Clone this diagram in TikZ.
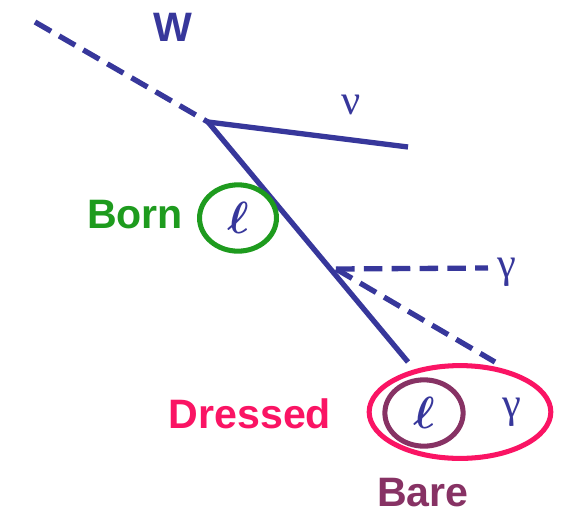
\documentclass[tikz,border=0pt]{standalone}
\usepackage{fix-cm}
\usepackage{amsmath}
\usepackage{fontspec}
\setmainfont{Liberation Sans}
\newfontfamily\greekfont{Liberation Serif}
\usetikzlibrary{shapes.geometric}

\definecolor{lineblue}{RGB}{55,55,155}
\definecolor{borngreen}{RGB}{30,155,30}
\definecolor{dresspink}{RGB}{250,20,100}
\definecolor{barepurple}{RGB}{135,50,100}

\begin{document}
\begin{tikzpicture}[x=0.0265cm,y=-0.0265cm,
    fermion/.style={lineblue, line width=4pt},
    boson/.style={lineblue, line width=4pt, dash pattern=on 14pt off 7pt},
    lbl/.style={font=\fontsize{31}{31}\selectfont\bfseries, inner sep=0pt},
    greek/.style={lineblue, font=\fontsize{32}{32}\selectfont\greekfont, inner sep=0pt},
    ell/.style={lineblue, inner sep=0pt, font=\fontsize{34}{34}\selectfont},
    ring/.style={ellipse, line width=3.8pt, inner sep=0pt}]
    \useasboundingbox (0,0) rectangle (566,519);
    \coordinate (wstart) at (35,22);
    \coordinate (wvtx) at (208,122);
    \coordinate (nuend) at (408,147);
    \coordinate (gvtx) at (336,269);
    \coordinate (lend) at (408,362);
    \coordinate (gend) at (488,268);
    \coordinate (gend2) at (495,362);
    \draw[boson] (wstart) -- (wvtx);
    \draw[fermion] (wvtx) -- (nuend);
    \draw[fermion] (wvtx) -- (lend);
    \draw[boson] (gvtx) -- (gend);
    \draw[boson] (gvtx) -- (gend2);
    \node[lbl, lineblue] (w) at (173,27) {W};
    \node[greek] (nu) at (351,105) {ν};
    \node[greek] (gam) at (507,272) {γ};
    % Born
    \node[ring, draw=borngreen, minimum width=58pt, minimum height=50pt] (born) at (238,218) {};
    \node[ell] (bornl) at (born) {$\boldsymbol{\ell}$};
    \node[lbl, borngreen] (borntxt) at (135,215) {Born};
    % Dressed and Bare
    \node[ring, draw=dresspink, minimum width=137pt, minimum height=70pt] (dressed) at (460,412) {};
    \node[ring, draw=barepurple, minimum width=59pt, minimum height=50pt] (bare) at (424,413) {};
    \node[ell] (barel) at (bare) {$\boldsymbol{\ell}$};
    \node[greek] (gam2) at (512,412) {γ};
    \node[lbl, dresspink] (dresstxt) at (250,414) {Dressed};
    \node[lbl, barepurple] (baretxt) at (423,493) {Bare};
\end{tikzpicture}
\end{document}
